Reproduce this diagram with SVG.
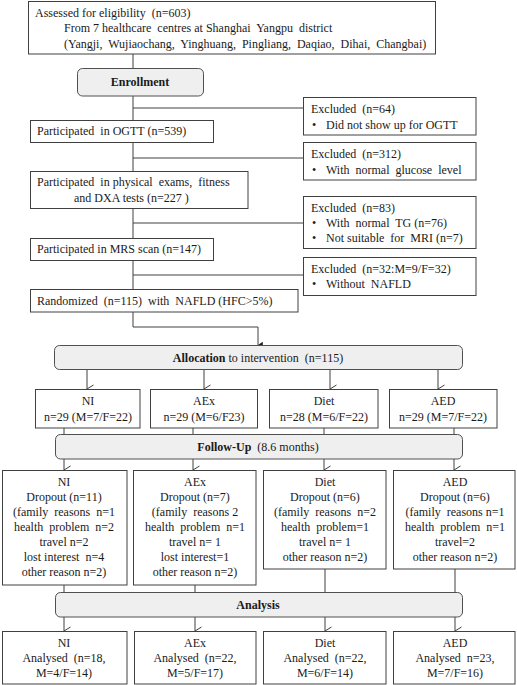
<svg xmlns="http://www.w3.org/2000/svg" width="517" height="685" viewBox="0 0 517 685">
<defs>
<marker id="open" viewBox="0 0 10 10" refX="5" refY="9.5" markerWidth="10" markerHeight="10" markerUnits="userSpaceOnUse" orient="auto-start-reverse">
<path d="M1,3 L5,9.5 L9,3" fill="none" stroke="#404040" stroke-width="1"/>
</marker>
<marker id="solid" viewBox="0 0 10 10" refX="5" refY="9" markerWidth="8" markerHeight="8" markerUnits="userSpaceOnUse" orient="auto-start-reverse">
<path d="M1,3 L5,9 L9,3 Z" fill="#202020"/>
</marker>
</defs>
<style>
text{font-family:"Liberation Serif","Times New Roman",serif;font-size:12px;fill:#1a1a1a}
.b{fill:#fff;stroke:#404040;stroke-width:1}
.r{fill:#efefef;stroke:#505050;stroke-width:1}
.l{fill:none;stroke:#404040;stroke-width:1}
.c{text-anchor:middle}
.bd{font-weight:bold}
</style>
<rect width="517" height="685" fill="#fff"/>
<g id="connectors">
<path class="l" d="M133,54 V68"/>
<path class="l" d="M133,96 V120"/>
<path class="l" d="M133,108 H303"/>
<path class="l" d="M133,142 V171"/>
<path class="l" d="M133,158 H303"/>
<path class="l" d="M133,208 V238"/>
<path class="l" d="M133,223 H303"/>
<path class="l" d="M133,260 V289"/>
<path class="l" d="M133,275 H303"/>
<path class="l" d="M133,312 V327 H258 V345" marker-end="url(#solid)"/>
<path class="l" d="M87,369 V389" marker-end="url(#open)"/>
<path class="l" d="M204,369 V389" marker-end="url(#open)"/>
<path class="l" d="M330,369 V389" marker-end="url(#open)"/>
<path class="l" d="M438,369 V389" marker-end="url(#open)"/>
<path class="l" d="M64,428 V434"/>
<path class="l" d="M193,428 V434"/>
<path class="l" d="M324,428 V434"/>
<path class="l" d="M454,428 V434"/>
<path class="l" d="M64,459 V470" marker-end="url(#open)"/>
<path class="l" d="M193,459 V470" marker-end="url(#open)"/>
<path class="l" d="M324,459 V470" marker-end="url(#open)"/>
<path class="l" d="M454,459 V470" marker-end="url(#open)"/>
<path class="l" d="M64,585 V592"/>
<path class="l" d="M195,585 V592"/>
<path class="l" d="M325,569 V592"/>
<path class="l" d="M455,569 V592"/>
<path class="l" d="M64,617 V631" marker-end="url(#open)"/>
<path class="l" d="M195,617 V631" marker-end="url(#open)"/>
<path class="l" d="M325,617 V631" marker-end="url(#open)"/>
<path class="l" d="M455,617 V631" marker-end="url(#open)"/>
</g>
<g id="assessed">
<rect class="b" x="28.5" y="1.5" width="407" height="52.5"/>
<text x="35" y="17" xml:space="preserve">Assessed for eligibility  (n=603)</text>
<text x="64" y="32" xml:space="preserve">From 7 healthcare  centres at Shanghai  Yangpu  district</text>
<text x="64" y="48" xml:space="preserve">(Yangji,  Wujiaochang,  Yinghuang,  Pingliang,  Daqiao,  Dihai,  Changbai)</text>
</g>
<g id="enrollment">
<rect class="r" x="77.5" y="68.5" width="126" height="27.5" rx="5"/>
<text class="c bd" x="140" y="86">Enrollment</text>
</g>
<g id="excl64">
<rect class="b" x="303.5" y="97.5" width="172.5" height="37.5"/>
<text x="311" y="113" xml:space="preserve">Excluded  (n=64)</text>
<text x="312" y="129">•</text>
<text x="326" y="129">Did not show up for OGTT</text>
</g>
<g id="ogtt">
<rect class="b" x="30.5" y="120.5" width="183" height="22"/>
<text x="37" y="135" xml:space="preserve">Participated  in OGTT (n=539)</text>
</g>
<g id="excl312">
<rect class="b" x="303.5" y="142.5" width="172.5" height="37.5"/>
<text x="311" y="158" xml:space="preserve">Excluded  (n=312)</text>
<text x="312" y="174">•</text>
<text x="326" y="174" xml:space="preserve">With  normal  glucose  level</text>
</g>
<g id="physical">
<rect class="b" x="30.5" y="171.5" width="217.5" height="37"/>
<text x="37" y="186" xml:space="preserve">Participated  in physical  exams,  fitness</text>
<text x="74" y="202" xml:space="preserve">and DXA tests (n=227 )</text>
</g>
<g id="excl83">
<rect class="b" x="303.5" y="196.5" width="172.5" height="52"/>
<text x="311" y="212" xml:space="preserve">Excluded  (n=83)</text>
<text x="312" y="227">•</text>
<text x="326" y="227" xml:space="preserve">With  normal  TG (n=76)</text>
<text x="312" y="242">•</text>
<text x="326" y="242" xml:space="preserve">Not suitable  for  MRI (n=7)</text>
</g>
<g id="mrs">
<rect class="b" x="30.5" y="238.5" width="183" height="22"/>
<text x="37" y="253">Participated in MRS scan (n=147)</text>
</g>
<g id="excl32">
<rect class="b" x="303.5" y="257.5" width="172.5" height="38"/>
<text x="311" y="273" xml:space="preserve">Excluded  (n=32:M=9/F=32)</text>
<text x="312" y="288">•</text>
<text x="326" y="288" xml:space="preserve">Without  NAFLD</text>
</g>
<g id="randomized">
<rect class="b" x="30.5" y="289.5" width="267.5" height="22.5"/>
<text x="37" y="305" xml:space="preserve">Randomized  (n=115)  with  NAFLD (HFC&gt;5%)</text>
</g>
<g id="allocation">
<rect class="r" x="54.5" y="345.5" width="408" height="24" rx="5"/>
<text class="c" x="258" y="362" xml:space="preserve"><tspan class="bd">Allocation</tspan> to intervention  (n=115)</text>
</g>
<g id="ni1">
<rect class="b" x="35.5" y="389.5" width="104.5" height="38.5"/>
<text class="c" x="88" y="405">NI</text>
<text class="c" x="88" y="421">n=29 (M=7/F=22)</text>
</g>
<g id="aex1">
<rect class="b" x="150.5" y="389.5" width="107" height="38.5"/>
<text class="c" x="204" y="405">AEx</text>
<text class="c" x="204" y="421">n=29 (M=6/F23)</text>
</g>
<g id="diet1">
<rect class="b" x="269.5" y="389.5" width="108.5" height="38.5"/>
<text class="c" x="324" y="405">Diet</text>
<text class="c" x="324" y="421">n=28 (M=6/F=22)</text>
</g>
<g id="aed1">
<rect class="b" x="389.5" y="389.5" width="107.5" height="38.5"/>
<text class="c" x="443" y="405">AED</text>
<text class="c" x="443" y="421">n=29 (M=7/F=22)</text>
</g>
<g id="followup">
<rect class="r" x="55.5" y="434.5" width="407" height="24.5" rx="5"/>
<text class="c" x="258" y="451" xml:space="preserve"><tspan class="bd">Follow-Up</tspan>  (8.6 months)</text>
</g>
<g id="ni2">
<rect class="b" x="2.5" y="470.5" width="124.5" height="114.5"/>
<text class="c" x="64" y="486">NI</text>
<text class="c" x="64" y="501">Dropout (n=11)</text>
<text class="c" x="64" y="516" xml:space="preserve">(family  reasons  n=1</text>
<text class="c" x="64" y="531" xml:space="preserve">health  problem  n=2</text>
<text class="c" x="64" y="546">travel n=2</text>
<text class="c" x="64" y="561" xml:space="preserve">lost interest  n=4</text>
<text class="c" x="64" y="576">other reason n=2)</text>
</g>
<g id="aex2">
<rect class="b" x="133.5" y="470.5" width="122.5" height="114.5"/>
<text class="c" x="195" y="486">AEx</text>
<text class="c" x="195" y="501">Dropout (n=7)</text>
<text class="c" x="195" y="516" xml:space="preserve">(family  reasons 2</text>
<text class="c" x="195" y="531" xml:space="preserve">health  problem  n=1</text>
<text class="c" x="195" y="546">travel n= 1</text>
<text class="c" x="195" y="561">lost interest=1</text>
<text class="c" x="195" y="576">other reason n=2)</text>
</g>
<g id="diet2">
<rect class="b" x="263.5" y="470.5" width="122.5" height="98.5"/>
<text class="c" x="325" y="486">Diet</text>
<text class="c" x="325" y="501">Dropout (n=6)</text>
<text class="c" x="325" y="516" xml:space="preserve">(family  reasons  n=2</text>
<text class="c" x="325" y="531" xml:space="preserve">health  problem=1</text>
<text class="c" x="325" y="546">travel n= 1</text>
<text class="c" x="325" y="561">other reason n=2)</text>
</g>
<g id="aed2">
<rect class="b" x="393.5" y="470.5" width="121.5" height="98.5"/>
<text class="c" x="455" y="486">AED</text>
<text class="c" x="455" y="501">Dropout (n=6)</text>
<text class="c" x="455" y="516" xml:space="preserve">(family  reasons n=1</text>
<text class="c" x="455" y="531" xml:space="preserve">health  problem  n=1</text>
<text class="c" x="455" y="546">travel=2</text>
<text class="c" x="455" y="561">other reason n=2)</text>
</g>
<g id="analysis">
<rect class="r" x="55.5" y="592.5" width="407" height="24.5" rx="5"/>
<text class="c bd" x="258" y="609">Analysis</text>
</g>
<g id="ni3">
<rect class="b" x="2.5" y="631.5" width="124.5" height="52.5"/>
<text class="c" x="64" y="647">NI</text>
<text class="c" x="64" y="662" xml:space="preserve">Analysed  (n=18,</text>
<text class="c" x="64" y="677">M=4/F=14)</text>
</g>
<g id="aex3">
<rect class="b" x="134.5" y="631.5" width="121.5" height="52.5"/>
<text class="c" x="195" y="647">AEx</text>
<text class="c" x="195" y="662" xml:space="preserve">Analysed  (n=22,</text>
<text class="c" x="195" y="677">M=5/F=17)</text>
</g>
<g id="diet3">
<rect class="b" x="263.5" y="631.5" width="122.5" height="52.5"/>
<text class="c" x="325" y="647">Diet</text>
<text class="c" x="325" y="662" xml:space="preserve">Analysed  (n=22,</text>
<text class="c" x="325" y="677">M=6/F=14)</text>
</g>
<g id="aed3">
<rect class="b" x="393.5" y="631.5" width="121.5" height="52.5"/>
<text class="c" x="455" y="647">AED</text>
<text class="c" x="455" y="662" xml:space="preserve">Analysed  n=23,</text>
<text class="c" x="455" y="677">M=7/F=16)</text>
</g>
</svg>
